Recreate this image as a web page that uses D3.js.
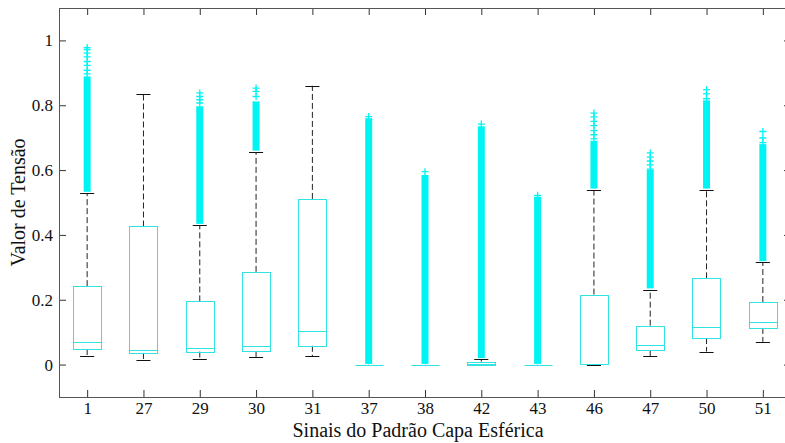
<!DOCTYPE html>
<html>
<head>
<meta charset="utf-8">
<script src="https://cdn.jsdelivr.net/npm/d3@7"></script>
</head>
<body style="margin:0">
<div id="chart"></div>
<script>
// boxplot of tension values per signal
let categories = ["1","27","29","30","31","37","38","42","43","46","47","50","51"];
let q1 =          [0.048,0.036,0.040,0.042,0.058,0,0,0,0,0.001,0.044,0.082,0.113];
let medians =     [0.069,0.046,0.050,0.056,0.105,0,0,0.002,0,0.002,0.059,0.117,0.130];
let q3 =          [0.242,0.426,0.195,0.286,0.511,0,0,0.009,0,0.216,0.120,0.266,0.193];
let whiskerLow =  [0.026,0.015,0.018,0.022,0.026,0,0,0,0,0,0.026,0.040,0.070];
let whiskerHigh = [0.529,0.835,0.430,0.655,0.860,0,0,0.017,0,0.539,0.231,0.539,0.315];
// dense runs of outliers (the '+' markers overlap into a solid column)
let outlierLow =  [0.533,null,0.434,0.660,null,0.002,0.002,0.020,0.002,0.543,0.235,0.543,0.319];
let outlierHigh = [0.889,null,0.797,0.812,null,0.760,0.585,0.735,0.518,0.690,0.601,0.815,0.680];
// sparse outliers above the dense run
let outlierTop = [
  [0.978,0.972,0.961,0.949,0.935,0.923,0.908,0.897],
  [],
  [0.838,0.827,0.817,0.807],
  [0.853,0.843,0.827],
  [],
  [0.765],
  [0.595],
  [0.742],
  [0.522],
  [0.776,0.764,0.750,0.737,0.722,0.709,0.696],
  [0.653,0.640,0.628,0.616,0.603],
  [0.848,0.835,0.820],
  [0.719,0.699,0.685]
];
let yTicks = [0, 0.2, 0.4, 0.6, 0.8, 1];

let W = 785, H = 443;
let plot = {left: 59, right: 791, top: 8, bottom: 397};
let serif = "Liberation Serif";

let svg = d3.select("#chart").append("svg")
    .attr("width", W)
    .attr("height", H)
    .attr("font-family", serif);
svg.append("rect").attr("width", W).attr("height", H).attr("fill", "#fff");

let x = d3.scalePoint()
    .domain(categories)
    .range([plot.left, plot.right])
    .padding(0.5);
let y = d3.scaleLinear()
    .domain([-0.1, 1.1])
    .range([plot.bottom, plot.top]);

let boxW = x.step() * 0.5;
let capW = boxW / 2;
let cyanLine = "#30e2e2";
let cyanMark = "#00f4f4";

let rows = categories.map(function(c, i) {
  return {cat: c, q1: q1[i], med: medians[i], q3: q3[i], lo: whiskerLow[i], hi: whiskerHigh[i],
          oLo: outlierLow[i], oHi: outlierHigh[i], top: outlierTop[i]};
});

let g = svg.append("g");

// whiskers (dashed)
g.selectAll("upperWhisker").data(rows).enter().append("line")
    .attr("x1", d => x(d.cat)).attr("x2", d => x(d.cat))
    .attr("y1", d => y(d.q3)).attr("y2", d => y(d.hi))
    .attr("stroke", "#222").attr("stroke-width", 1).attr("stroke-dasharray", "6,3");
g.selectAll("lowerWhisker").data(rows).enter().append("line")
    .attr("x1", d => x(d.cat)).attr("x2", d => x(d.cat))
    .attr("y1", d => y(d.q1)).attr("y2", d => y(d.lo))
    .attr("stroke", "#222").attr("stroke-width", 1).attr("stroke-dasharray", "6,3");

// whisker caps
["hi", "lo"].forEach(function(k) {
  g.selectAll("cap" + k).data(rows).enter().append("line")
      .attr("x1", d => x(d.cat) - capW / 2).attr("x2", d => x(d.cat) + capW / 2)
      .attr("y1", d => Math.round(y(d[k])) + 0.5).attr("y2", d => Math.round(y(d[k])) + 0.5)
      .attr("stroke", "#111").attr("stroke-width", 1);
});

// outliers: dense column
let plusSize = 7;
g.selectAll("outBand").data(rows.filter(d => d.oLo !== null)).enter().append("rect")
    .attr("x", d => x(d.cat) - plusSize / 2)
    .attr("y", d => y(d.oHi))
    .attr("width", plusSize)
    .attr("height", d => y(d.oLo) - y(d.oHi))
    .attr("fill", cyanMark);

// outliers: sparse '+' markers
let plusPath = "M" + (-plusSize / 2) + ",0H" + (plusSize / 2) + "M0," + (-plusSize / 2) + "V" + (plusSize / 2);
rows.forEach(function(d) {
  g.selectAll(null).data(d.top).enter().append("path")
      .attr("d", plusPath)
      .attr("transform", v => "translate(" + x(d.cat) + "," + y(v) + ")")
      .attr("fill", "none")
      .attr("stroke", cyanMark)
      .attr("stroke-width", 1.3);
});

// boxes
g.selectAll("boxes").data(rows).enter().append("rect")
    .attr("x", d => Math.round(x(d.cat) - boxW / 2) + 0.5)
    .attr("y", d => Math.round(y(d.q3)) + 0.5)
    .attr("width", Math.round(boxW))
    .attr("height", d => Math.max(0, Math.round(y(d.q1)) - Math.round(y(d.q3))))
    .attr("fill", "none")
    .attr("stroke", cyanLine)
    .attr("stroke-width", 1);

// medians
g.selectAll("medians").data(rows).enter().append("line")
    .attr("x1", d => Math.round(x(d.cat) - boxW / 2) + 0.5)
    .attr("x2", d => Math.round(x(d.cat) - boxW / 2) + 0.5 + Math.round(boxW))
    .attr("y1", d => Math.round(y(d.med)) + 0.5).attr("y2", d => Math.round(y(d.med)) + 0.5)
    .attr("stroke", cyanLine).attr("stroke-width", 1);

// axes with inward ticks
let tickLen = 7;
let axisColor = "#555";

let xAxis = svg.append("g")
    .attr("transform", "translate(0," + plot.bottom + ")")
    .call(d3.axisBottom(x).tickSizeInner(-tickLen).tickSizeOuter(0).tickPadding(5));
let xTop = svg.append("g")
    .attr("transform", "translate(0," + plot.top + ")")
    .call(d3.axisTop(x).tickSizeInner(-tickLen).tickSizeOuter(0).tickFormat(""));
let yAxis = svg.append("g")
    .attr("transform", "translate(" + plot.left + ",0)")
    .call(d3.axisLeft(y).tickValues(yTicks).tickFormat(d3.format("")).tickSizeInner(-tickLen).tickSizeOuter(0).tickPadding(6));
let yRight = svg.append("g")
    .attr("transform", "translate(" + plot.right + ",0)")
    .call(d3.axisRight(y).tickValues(yTicks).tickSizeInner(-tickLen).tickSizeOuter(0).tickFormat(""));

[xAxis, xTop, yAxis, yRight].forEach(function(a) {
  a.attr("font-family", serif).attr("font-size", 17);
  a.select(".domain").remove();
  a.selectAll("line").attr("stroke", "#333");
  a.selectAll("text")
      .attr("fill", "#111")
      .attr("font-family", serif)
      .attr("font-size", 17);
});

// frame
svg.append("rect")
    .attr("x", plot.left + 0.5).attr("y", plot.top + 0.5)
    .attr("width", plot.right - plot.left).attr("height", plot.bottom - plot.top)
    .attr("fill", "none").attr("stroke", axisColor).attr("stroke-width", 1);

// labels
svg.append("text")
    .attr("x", (plot.left + plot.right) / 2 - 7)
    .attr("y", 437)
    .attr("text-anchor", "middle")
    .attr("fill", "#111")
    .attr("font-family", serif)
    .attr("font-size", 20)
    .text("Sinais do Padrão Capa Esférica");

svg.append("text")
    .attr("transform", "translate(25," + (plot.top + plot.bottom) / 2 + ") rotate(-90)")
    .attr("text-anchor", "middle")
    .attr("fill", "#111")
    .attr("font-family", serif)
    .attr("font-size", 20)
    .text("Valor de Tensão");
</script>
</body>
</html>
